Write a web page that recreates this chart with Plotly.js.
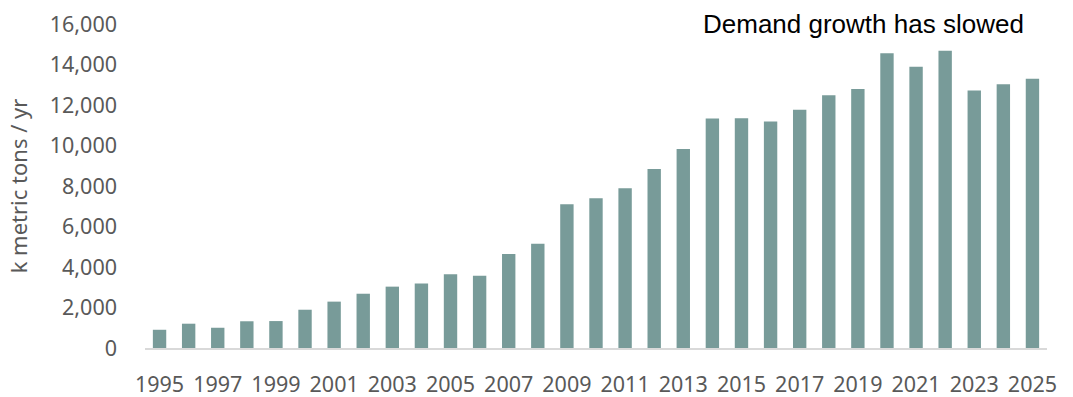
<!DOCTYPE html>
<html>
<head>
<meta charset="utf-8">
<script src="https://cdn.plot.ly/plotly-3.0.1.min.js"></script>
<style>html,body{margin:0;padding:0;background:#fff;}#chart{width:1073px;height:397px;}</style>
</head>
<body>
<div id="chart"></div>
<script>
const years = [1995,1996,1997,1998,1999,2000,2001,2002,2003,2004,2005,2006,2007,2008,2009,2010,2011,2012,2013,2014,2015,2016,2017,2018,2019,2020,2021,2022,2023,2024,2025];
const demand = [900,1200,1000,1320,1330,1890,2290,2680,3030,3180,3640,3570,4640,5150,7100,7390,7890,8840,9830,11330,11340,11180,11770,12480,12790,14550,13890,14680,12720,13020,13300];
const tickYears = [1995,1997,1999,2001,2003,2005,2007,2009,2011,2013,2015,2017,2019,2021,2023,2025];
const yTicks = [0,2000,4000,6000,8000,10000,12000,14000,16000];
const chartTitle = "Demand growth has slowed";
const yTitle = "k metric tons / yr";

const tickFont = "'Noto Sans',sans-serif";
const titleFont = "'Noto Sans',sans-serif";
const trace = {
  type: 'bar', x: years, y: demand,
  marker: {color: '#789b99'},
  hoverinfo: 'x+y'
};
const layout = {
  width: 1073, height: 397,
  margin: {l: 145, r: 26, t: 24, b: 49},
  paper_bgcolor: '#fff', plot_bgcolor: '#fff',
  bargap: 0.54,
  showlegend: false,
  font: {family: titleFont, color: '#595959', size: 20},
  xaxis: {
    range: [1994.5, 2025.5],
    tickvals: tickYears, ticktext: tickYears.map(String),
    showgrid: false, zeroline: false,
    showline: true, linecolor: '#d9d9d9', linewidth: 2,
    ticks: '', ticklabelstandoff: 16,
    tickfont: {family: tickFont, size: 21.5, color: '#595959'}
  },
  yaxis: {
    range: [0, 16000],
    tickvals: yTicks, ticktext: yTicks.map(v => v.toLocaleString('en-US')),
    showgrid: false, zeroline: false, showline: false,
    ticks: '', ticklabelstandoff: 27,
    tickfont: {family: tickFont, size: 21.5, color: '#595959'},
    title: {text: yTitle, font: {family: titleFont, size: 22, color: '#595959'}, standoff: 16}
  },
  annotations: [{
    text: chartTitle, xref: 'paper', yref: 'paper',
    x: 1, y: 1.0, xanchor: 'right', yanchor: 'middle', xshift: -21,
    showarrow: false,
    font: {family: "'Liberation Sans', Arial, sans-serif", size: 26, color: '#000'}
  }]
};
Plotly.newPlot('chart', [trace], layout, {displayModeBar: false, staticPlot: true});
</script>
</body>
</html>
